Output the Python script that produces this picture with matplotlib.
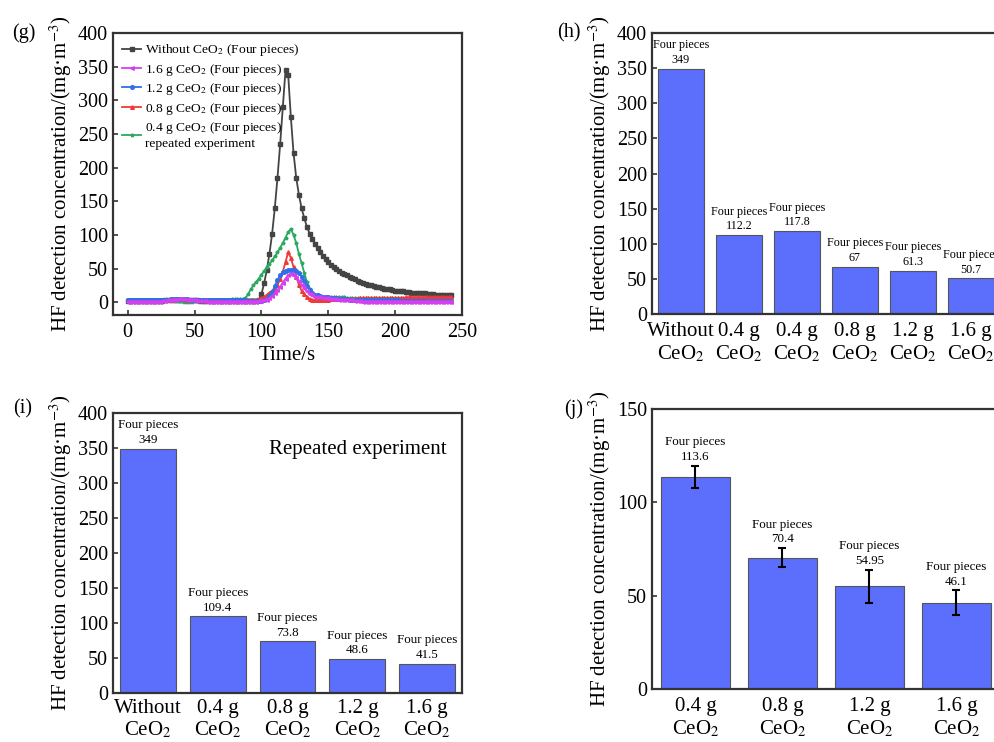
import numpy as np
import matplotlib.pyplot as plt

plt.rcParams['font.family'] = ['Liberation Serif', 'DejaVu Serif']
plt.rcParams['mathtext.fontset'] = 'stix'

# HF concentration vs time, sampled every 2 s (0 .. 242 s)
time_s = np.arange(0, 243, 2)

hf_without = [
    2, 2, 2, 2, 2, 2, 2, 2, 2, 2,
    2, 2, 2, 2, 3, 3, 3, 3, 4, 4,
    4, 4, 4, 3, 3, 3, 3, 2, 2, 2,
    2, 2, 2, 2, 2, 2, 2, 2, 2, 2,
    2, 2, 2, 2, 2, 2, 2, 2, 2, 3,
    12, 28, 48, 72, 102, 140, 185, 235, 290, 345,
    338, 275, 222, 185, 160, 140, 125, 112, 102, 94,
    87, 80, 74, 69, 64, 60, 56, 53, 50, 47,
    44, 42, 40, 38, 36, 34, 32, 30, 29, 27,
    26, 25, 24, 23, 22, 21, 20, 19, 19, 18,
    17, 17, 16, 16, 15, 15, 14, 14, 14, 13,
    13, 13, 12, 12, 12, 11, 11, 11, 11, 10,
    10, 10,
]
hf_16g = [
    1, 1, 1, 1, 1, 1, 1, 1, 1, 1,
    1, 1, 1, 2, 2, 3, 3, 4, 4, 5,
    5, 5, 4, 4, 3, 3, 2, 2, 2, 2,
    1, 1, 1, 1, 1, 1, 1, 1, 1, 1,
    1, 1, 1, 1, 1, 1, 1, 1, 1, 2,
    2, 3, 4, 6, 9, 13, 18, 23, 29, 35,
    40, 42, 40, 36, 31, 26, 21, 16, 12, 10,
    8, 7, 7, 6, 6, 6, 5, 5, 5, 4,
    4, 4, 3, 3, 3, 2, 2, 2, 1, 1,
    1, 1, 1, 1, 1, 1, 1, 1, 1, 1,
    1, 1, 1, 1, 1, 1, 1, 1, 1, 1,
    1, 1, 1, 1, 1, 1, 1, 1, 1, 1,
    1, 1,
]
hf_12g = [
    4, 4, 4, 4, 4, 4, 4, 4, 4, 4,
    4, 4, 4, 4, 4, 4, 5, 5, 5, 5,
    5, 5, 5, 4, 4, 4, 4, 3, 3, 3,
    3, 3, 3, 3, 3, 3, 3, 3, 3, 3,
    3, 3, 3, 3, 3, 2, 2, 2, 2, 2,
    2, 3, 5, 9, 15, 24, 33, 40, 45, 47,
    48, 48, 48, 47, 44, 38, 31, 24, 18, 14,
    11, 10, 9, 8, 7, 7, 6, 6, 6, 5,
    5, 5, 5, 4, 4, 4, 4, 3, 3, 3,
    3, 3, 3, 3, 3, 3, 3, 3, 3, 3,
    3, 3, 2, 2, 2, 2, 2, 2, 2, 2,
    2, 2, 2, 2, 2, 2, 2, 2, 2, 2,
    2, 2,
]
hf_08g = [
    4, 4, 4, 4, 4, 4, 4, 4, 4, 4,
    4, 4, 4, 4, 4, 4, 4, 4, 5, 5,
    5, 5, 4, 4, 4, 4, 4, 4, 4, 4,
    4, 4, 4, 4, 4, 4, 4, 4, 4, 4,
    4, 4, 4, 4, 4, 4, 4, 4, 4, 5,
    6, 8, 11, 14, 17, 20, 26, 34, 45, 60,
    74, 66, 52, 38, 26, 17, 12, 8, 5, 3,
    3, 3, 4, 4, 4, 4, 5, 5, 5, 5,
    5, 5, 5, 5, 5, 5, 5, 6, 6, 6,
    6, 6, 6, 6, 6, 6, 6, 6, 6, 6,
    6, 6, 6, 6, 7, 7, 7, 7, 7, 7,
    7, 7, 7, 7, 7, 7, 7, 7, 7, 7,
    7, 7,
]
hf_04g = [
    3, 3, 3, 3, 3, 3, 3, 3, 3, 3,
    3, 3, 3, 3, 3, 3, 3, 3, 2, 2,
    2, 1, 1, 1, 1, 2, 2, 2, 2, 2,
    2, 2, 3, 3, 3, 3, 3, 4, 4, 5,
    5, 5, 5, 5, 6, 12, 19, 25, 30, 35,
    41, 46, 52, 57, 62, 68, 74, 81, 88, 96,
    104, 109, 100, 88, 72, 58, 44, 30, 19, 14,
    11, 10, 9, 8, 8, 7, 7, 7, 7, 7,
    7, 7, 6, 6, 6, 6, 6, 6, 6, 6,
    6, 6, 6, 6, 6, 6, 6, 6, 6, 6,
    6, 6, 6, 5, 5, 5, 5, 5, 5, 5,
    5, 5, 5, 5, 5, 5, 5, 5, 5, 5,
    5, 5,
]

# peak concentrations, first test
labels_h = ['Without\nCeO$_2$', '0.4 g\nCeO$_2$', '0.4 g\nCeO$_2$',
            '0.8 g\nCeO$_2$', '1.2 g\nCeO$_2$', '1.6 g\nCeO$_2$']
peaks_h = [349, 112.2, 117.8, 67, 61.3, 50.7]

# peak concentrations, repeated test
labels_i = ['Without\nCeO$_2$', '0.4 g\nCeO$_2$', '0.8 g\nCeO$_2$',
            '1.2 g\nCeO$_2$', '1.6 g\nCeO$_2$']
peaks_i = [349, 109.4, 73.8, 48.6, 41.5]

# mean peak with spread
labels_j = ['0.4 g\nCeO$_2$', '0.8 g\nCeO$_2$', '1.2 g\nCeO$_2$', '1.6 g\nCeO$_2$']
peaks_j = [113.6, 70.4, 54.95, 46.1]
errors_j = [6.0, 5.0, 8.9, 6.7]

ylabel = 'HF detection concentration/(mg·m$^{-3}$)'
bar_color = '#5b6ffc'
spine_color = '#333333'

fig = plt.figure(figsize=(9.94, 7.42), dpi=100)
ax_g = fig.add_axes([0.1137, 0.5755, 0.3511, 0.3800])
ax_h = fig.add_axes([0.6559, 0.5768, 0.3501, 0.3787])
ax_i = fig.add_axes([0.1137, 0.0660, 0.3511, 0.3774])
ax_j = fig.add_axes([0.6559, 0.0714, 0.3501, 0.3774])


def style_axes(ax):
    for sp in ax.spines.values():
        sp.set_color(spine_color)
        sp.set_linewidth(1.6)
    ax.tick_params(axis='both', direction='in', labelsize=14.5, width=1.2,
                   color=spine_color)
    ax.set_ylabel(ylabel, fontsize=15, labelpad=3)


# (g) time series
series = [
    (hf_without, '#444444', 's', 'Without CeO$_2$ (Four pieces)'),
    (hf_04g, '#2ca860', '*', '0.4 g CeO$_2$ (Four pieces)\nrepeated experiment'),
    (hf_08g, '#f03a3a', '^', '0.8 g CeO$_2$ (Four pieces)'),
    (hf_12g, '#2f6fe8', 'o', '1.2 g CeO$_2$ (Four pieces)'),
    (hf_16g, '#d43ff0', '<', '1.6 g CeO$_2$ (Four pieces)'),
]
handles = {}
for vals, col, mk, lab in series:
    ln, = ax_g.plot(time_s, vals, color=col, marker=mk, markersize=2.6,
                    linewidth=1.3, label=lab)
    handles[lab] = ln
order = [series[0][3], series[4][3], series[3][3], series[2][3], series[1][3]]
ax_g.legend([handles[k] for k in order], order, loc='upper left', frameon=False,
            fontsize=9.7, handlelength=1.4, handletextpad=0.3, labelspacing=0.25,
            borderaxespad=0.3, bbox_to_anchor=(0.0, 1.0))
ax_g.set_xlim(-11, 250)
ax_g.set_ylim(-19, 400)
ax_g.set_xticks([0, 50, 100, 150, 200, 250])
ax_g.set_yticks(range(0, 401, 50))
style_axes(ax_g)
ax_g.tick_params(axis='x', pad=6)
ax_g.set_xlabel('Time/s', fontsize=15, labelpad=3)


def draw_bars(ax, labels, values, errors=None, text_size=8.2, label_pad=6):
    x = np.arange(len(values))
    ax.bar(x, values, width=0.8, color=bar_color, edgecolor='#555555',
           linewidth=0.8, zorder=2)
    tops = list(values)
    if errors is not None:
        ax.errorbar(x, values, yerr=errors, fmt='none', ecolor='black',
                    elinewidth=1.5, capsize=3, capthick=1.5, zorder=3)
        tops = [v + e for v, e in zip(values, errors)]
    for xi, v, t in zip(x, values, tops):
        ax.annotate(f'Four pieces\n{v:g}', (xi, t), xytext=(0, 2),
                    textcoords='offset points', ha='center', va='bottom',
                    fontsize=text_size, linespacing=1.3)
    ax.set_xticks(x)
    ax.set_xticklabels(labels, linespacing=1.15)
    ax.set_xlim(-0.5, len(values) - 0.5)
    style_axes(ax)
    ax.tick_params(axis='x', length=0, pad=label_pad, labelsize=15)


draw_bars(ax_h, labels_h, peaks_h, text_size=8.7, label_pad=6)
ax_h.set_ylim(0, 400)
ax_h.set_yticks(range(0, 401, 50))

draw_bars(ax_i, labels_i, peaks_i, text_size=9.4, label_pad=4)
ax_i.set_ylim(0, 400)
ax_i.set_yticks(range(0, 401, 50))
ax_i.text(0.70, 0.87, 'Repeated experiment', transform=ax_i.transAxes,
          ha='center', va='center', fontsize=15)

draw_bars(ax_j, labels_j, peaks_j, errors_j, text_size=9.4, label_pad=6)
ax_j.set_ylim(0, 150)
ax_j.set_yticks([0, 50, 100, 150])

# panel letters
for txt, px, py in [('(g)', 12, 33), ('(h)', 557, 33), ('(i)', 13, 409), ('(j)', 564, 409)]:
    fig.text(px / 994, 1 - py / 742, txt, fontsize=14.5, ha='left', va='center')

fig.savefig('out.png', dpi=100)
